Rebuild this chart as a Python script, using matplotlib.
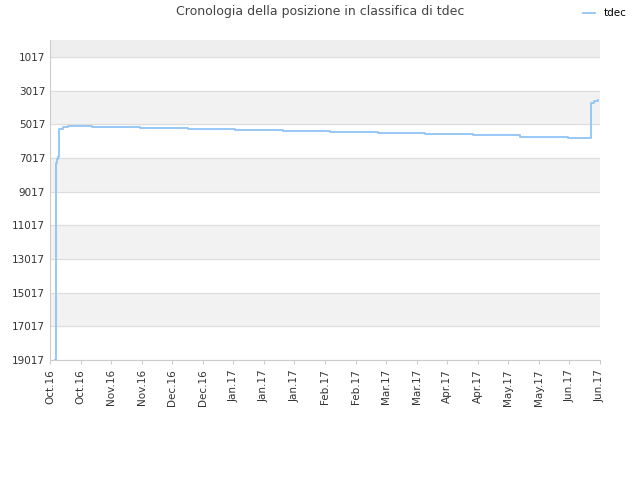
import matplotlib

matplotlib.use("Agg")
import matplotlib.pyplot as plt

# position along the axis (tick-index units) and rank value
pos = [0.16, 0.20, 0.23, 0.26, 0.29, 0.43, 0.59, 1.37, 2.95, 4.52, 6.05, 7.63, 9.16, 10.73, 12.27, 13.85, 15.38, 16.95, 17.70, 17.80, 17.93]
rank = [19017, 7315, 7100, 6960, 5290, 5170, 5140, 5200, 5260, 5320, 5380, 5440, 5500, 5560, 5620, 5680, 5740, 5800, 3750, 3630, 3570]
tick_labels = ["Oct.16", "Oct.16", "Nov.16", "Nov.16", "Dec.16", "Dec.16", "Jan.17", "Jan.17",
               "Jan.17", "Feb.17", "Feb.17", "Mar.17", "Mar.17", "Apr.17", "Apr.17", "May.17",
               "May.17", "Jun.17", "Jun.17"]
y_ticks = [1017, 3017, 5017, 7017, 9017, 11017, 13017, 15017, 17017, 19017]

fig = plt.figure(figsize=(6.4, 4.8), dpi=100)
ax = fig.add_axes([50 / 640, 120 / 480, 550 / 640, 320 / 480])

n = len(tick_labels)
ax.set_xlim(0, n - 1)
ax.set_ylim(19017, 7)
for i in range(len(y_ticks) - 1):
    if i % 2 == 1:
        ax.axhspan(y_ticks[i], y_ticks[i + 1], color="#f2f2f2", zorder=0)
ax.axhspan(1017, 7, color="#eeeeee", zorder=0)
for v in y_ticks:
    ax.axhline(v, color="#dddddd", lw=0.8, zorder=1)

ax.plot(pos, rank, drawstyle="steps-post", color="#90c4f5", lw=1.3, zorder=3, label="tdec")

ax.set_yticks(y_ticks)
ax.set_xticks(range(n))
ax.set_xticklabels(tick_labels, rotation=90, fontsize=7.5, color="#333333")
ax.tick_params(axis="y", labelsize=7.5, colors="#333333", length=0)
ax.tick_params(axis="x", length=3, color="#cccccc")
for s in ["top", "right"]:
    ax.spines[s].set_visible(False)
for s in ["left", "bottom"]:
    ax.spines[s].set_color("#cccccc")

fig.text(0.5, 0.975, "Cronologia della posizione in classifica di tdec", ha="center",
         va="center", fontsize=9, color="#444444")
ax.legend(loc="center", bbox_to_anchor=(0.945, 0.972), bbox_transform=fig.transFigure,
          frameon=False, fontsize=7.5, handlelength=1.2)

fig.savefig("out.png", dpi=100)
